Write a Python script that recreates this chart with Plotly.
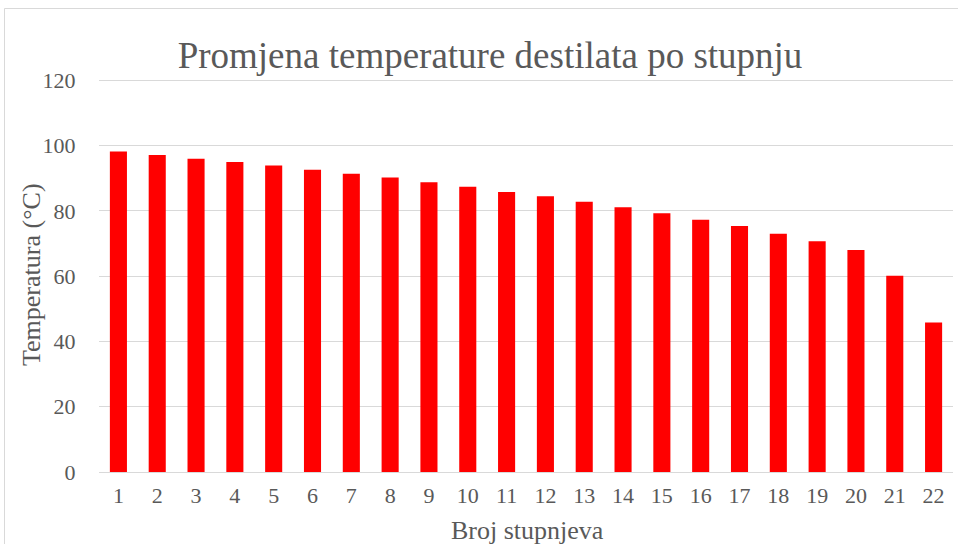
import plotly.graph_objects as go

stages = [str(i) for i in range(1, 23)]
temperatures = [98.2, 97.1, 96.0, 95.0, 93.9, 92.6, 91.4, 90.2, 88.8, 87.4,
                85.8, 84.5, 82.8, 81.1, 79.3, 77.3, 75.4, 73.0, 70.7, 68.0,
                60.1, 45.8]
y_ticks = [0, 20, 40, 60, 80, 100, 120]

FONT = "Liberation Serif, Times New Roman, serif"
GRAY = "#595959"

W, H = 958, 544
L, R, T, B = 99, 5, 79, 72
pw, ph = W - L - R, H - T - B

fig = go.Figure(go.Bar(x=stages, y=temperatures, marker_color="#ff0000",
                       marker_line_width=0))

fig.update_layout(
    width=W, height=H,
    margin=dict(l=L, r=R, t=T, b=B),
    paper_bgcolor="white", plot_bgcolor="white",
    bargap=0.56,
    showlegend=False,
    font=dict(family=FONT, color=GRAY),
    title=dict(text="Promjena temperature destilata po stupnju",
               font=dict(family=FONT, size=37, color=GRAY),
               x=490 / W, xanchor="center", xref="container", y=1 - 55 / H, yanchor="middle",
               yref="container"),
    xaxis=dict(type="category", tickfont=dict(size=22, color=GRAY),
               ticks="outside", ticklen=4, tickcolor="rgba(0,0,0,0)",
               showgrid=False, showline=False, zeroline=False),
    yaxis=dict(range=[0, 120.4], tickvals=y_ticks, tickfont=dict(size=22, color=GRAY),
               ticks="outside", ticklen=18, tickcolor="rgba(0,0,0,0)",
               showgrid=True, gridcolor="#d9d9d9", gridwidth=1,
               zeroline=True, zerolinecolor="#d9d9d9", zerolinewidth=1,
               showline=False),
    annotations=[
        dict(text="Temperatura (°C)", textangle=-90, showarrow=False,
             xref="paper", yref="paper", x=(31 - L) / pw, y=(H - B - 275) / ph,
             xanchor="center", yanchor="middle",
             font=dict(family=FONT, size=26, color=GRAY)),
        dict(text="Broj stupnjeva", showarrow=False,
             xref="paper", yref="paper", x=(527 - L) / pw, y=(H - B - 530) / ph,
             xanchor="center", yanchor="middle",
             font=dict(family=FONT, size=26, color=GRAY)),
    ],
    shapes=[dict(type="rect", xref="paper", yref="paper",
                 x0=(4.5 - L) / pw, x1=1.05, y0=-0.3, y1=(H - B - 8.5) / ph,
                 line=dict(color="#d9d9d9", width=1), fillcolor="rgba(0,0,0,0)",
                 layer="below")],
)

fig.write_html("out.html", config={"displayModeBar": False},
               post_script="document.body.style.margin='0';")
